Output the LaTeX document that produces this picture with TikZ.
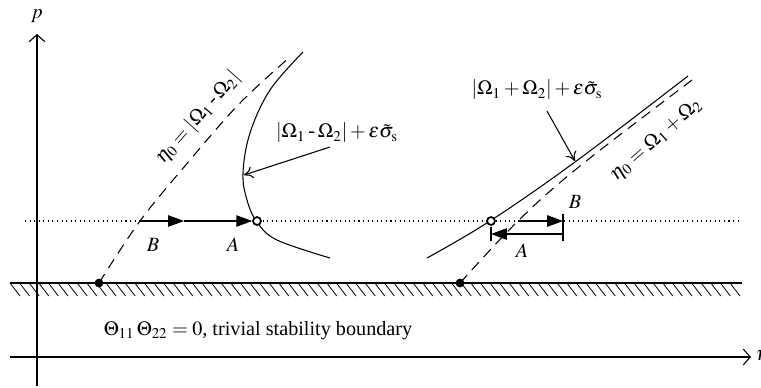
\documentclass[tikz,border=0pt]{standalone}
\usepackage{mathptmx}
\usepackage[no-math]{fontspec}
\setmainfont{Liberation Serif}
\usetikzlibrary{arrows.meta, calc}

\newcommand{\hyph}{\mathbin{\mbox{-}}}

\tikzset{
  axis/.style={-{Straight Barb[length=4pt,width=9pt]}, line width=0.6pt},
  curve/.style={line width=0.6pt},
  dcurve/.style={line width=0.6pt, dash pattern=on 6pt off 4pt},
  flow/.style={-{Triangle[length=9pt,width=6.5pt]}, line width=0.6pt},
  pointer/.style={-{To[length=5pt,width=7pt]}, line width=0.6pt},
  fulldot/.style={circle, fill, inner sep=0pt, minimum size=5pt},
  opendot/.style={circle, draw, fill=white, line width=1pt, inner sep=0pt, minimum size=4.5pt},
  lbl/.style={font=\fontsize{11.5}{13}\selectfont, inner sep=1pt},
}

\begin{document}
\begin{tikzpicture}[x=0.02cm, y=-0.02cm]
  \useasboundingbox (0,0) rectangle (761,387);

  % Axes
  \coordinate (yaxbot) at (37,386);
  \node[lbl] (ylab) at (37,16) {$p$};
  \draw[axis] (yaxbot) -- (37,34) coordinate (yaxtop);
  \coordinate (xaxleft) at (10,357);
  \draw[axis] (xaxleft) -- (751,357) coordinate (xaxright);
  \node[lbl, anchor=west] (xlab) at (754,357) {$\eta$};

  % Trivial boundary with hatching
  \draw[line width=0.6pt] (10,283) coordinate (bndl) -- (742,283) coordinate (bndr);
  \foreach \x in {10,19.6,...,735}
    \draw[line width=0.45pt] (\x,283) -- ++(10,13);
  \node[lbl] (triv) at (258,331)
    {$\Theta_{11}\,\Theta_{22} = 0$, trivial stability boundary};

  % Dotted level
  \draw[dotted, line width=0.6pt] (25,221) -- (738,221);

  % Left branch
  \node[fulldot] (dotL) at (99,283) {};
  \draw[dcurve] plot[smooth, tension=0.6] coordinates
    {(99,283) (140,221) (190,160) (240,103) (290,57)};
  \draw[curve] plot[smooth, tension=0.6] coordinates
    {(303,52) (270,90) (250,133) (243,173) (247,200) (257,222) (277,240) (330,258)};
  \node[opendot] (AL) at (257,221) {};
  \coordinate (BL) at (140,221);
  \coordinate (midL) at (184,221);
  \draw[flow] (BL) -- (midL);
  \draw[flow] (midL) -- (AL);
  \node[lbl] (BLlab) at (153,245) {$B$};
  \node[lbl] (ALlab) at (233,245) {$A$};
  \node[lbl, rotate=48.5] (etaL) at (198,118) {$\eta_{0} = |\Omega_1 \hyph \Omega_2|$};
  \node[lbl, anchor=west] (labL) at (274,133)
    {$|\Omega_1 \hyph \Omega_2| + \varepsilon\tilde{\sigma}_{\mathrm{s}}$};
  \coordinate (ptL) at (244,175);
  \draw[pointer] (330,147) coordinate (fromL) -- (ptL);

  % Right branch
  \node[fulldot] (dotR) at (460,283) {};
  \draw[dcurve] plot[smooth, tension=0.6] coordinates
    {(460,283) (518,221) (580,166) (692,80)};
  \draw[curve] plot[smooth, tension=0.6] coordinates
    {(427,258) (490,221) (575,162) (688,76)};
  \node[opendot] (AR) at (491,221) {};
  \coordinate (BR) at (518,221);
  \coordinate (tipR) at (563,221);
  \draw[flow] (BR) -- (tipR);
  \draw[flow] (563,234) coordinate (startR) -- (491,234) coordinate (endR);
  \draw[line width=0.6pt] (563,214) -- (563,241);
  \draw[line width=0.6pt] (491,227) -- (491,241);
  \node[lbl] (BRlab) at (575,202) {$B$};
  \node[lbl] (ARlab) at (522,251) {$A$};
  \node[lbl, rotate=41] (etaR) at (656,140) {$\eta_{0} = \Omega_1 + \Omega_2$};
  \node[lbl] (labR) at (537,90)
    {$|\Omega_1 + \Omega_2| + \varepsilon\tilde{\sigma}_{\mathrm{s}}$};
  \coordinate (ptR) at (575,161);
  \draw[pointer] (547,111) coordinate (fromR) -- (ptR);
\end{tikzpicture}
\end{document}
